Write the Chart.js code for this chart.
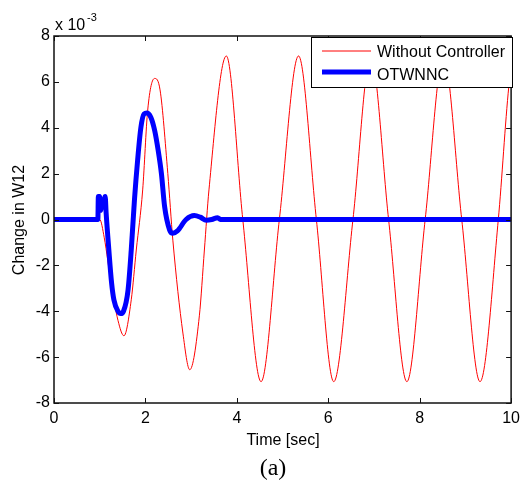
<!DOCTYPE html>
<html>
<head>
<meta charset="utf-8">
<script src="https://cdn.jsdelivr.net/npm/chart.js@4.4.1/dist/chart.umd.min.js"></script>
<style>
    html, body { margin: 0; padding: 0; background: #fff; }
    #wrap { width: 526px; height: 482px; }
</style>
</head>
<body>
<div id="wrap"><canvas id="w12Chart" width="526" height="482"></canvas></div>
<script>

// ======================================================
// Data (values in units of 10^-3)
// ======================================================

const seriesNames = ["Without Controller", "OTWNNC"];

const xTicks = [0, 2, 4, 6, 8, 10];
const yTicks = [-8, -6, -4, -2, 0, 2, 4, 6, 8];

// Without Controller (red)
const redTime = [0, 1.0, 1.1, 1.25, 1.4, 1.53, 1.69, 1.8, 1.94, 2.05, 2.2, 2.32, 2.49, 2.6, 2.82, 2.97, 3.18, 3.29, 3.39, 3.77,
    4.13, 4.53, 4.93, 5.35, 5.74, 6.12, 6.54, 6.93, 7.32, 7.72, 8.12, 8.52, 8.92, 9.32, 9.72, 9.95, 10];
const redValue = [0, 0, -0.8, -2.8, -4.4, -5.07, -3.5, -1.33, 1.29, 4.77, 6.15, 5.65, 2.0, -0.9, -4.95, -6.55, -4.2, -1.33, 1.29, 7.13,
    0, -7.07, 0, 7.13, 0, -7.07, 0, 7.12, 0, -7.07, 0, 7.12, 0, -7.07, 0, 5.8, 6.5];

// OTWNNC (blue)
const blueTime = [0, 0.96, 0.97, 1.0, 1.02, 1.05, 1.08, 1.12, 1.14, 1.2, 1.26, 1.31, 1.4, 1.46, 1.52, 1.62, 1.69, 1.76, 1.83, 1.9,
    1.97, 2.03, 2.12, 2.2, 2.28, 2.35, 2.42, 2.53, 2.6, 2.7, 2.89, 3.07, 3.2, 3.33, 3.45, 3.58, 3.64, 10];
const blueValue = [0, 0, 1.0, 1.0, 0.4, 0.8, 0.6, 1.0, 0.3, -1.33, -2.77, -3.5, -4.0, -4.1, -4.0, -3.07, -1.33, 0.85, 2.6, 4.0,
    4.6, 4.64, 4.45, 3.9, 3.0, 2.0, 0.56, -0.46, -0.6, -0.5, 0, 0.17, 0.1, -0.03, 0, 0.08, 0, 0];

const toPoints = (xs, ys) => xs.map((x, i) => ({ x: x, y: ys[i] }));

const SANS = "'Liberation Sans', Arial, Helvetica, sans-serif";
const SERIF = "'Liberation Serif', 'Times New Roman', serif";


// ======================================================
// Frame, inward ticks, labels and legend (MATLAB look)
// ======================================================

const matlabFrame = {
    id: "matlabFrame",
    afterDatasetsDraw(chart) {
        const { ctx, chartArea: a, scales } = chart;
        const tick = 5;

        ctx.save();
        ctx.strokeStyle = "#111";
        ctx.lineWidth = 1.5;
        ctx.strokeRect(a.left, a.top, a.right - a.left, a.bottom - a.top);

        ctx.lineWidth = 1;
        ctx.beginPath();
        xTicks.forEach(v => {
            const px = Math.round(scales.x.getPixelForValue(v)) + 0.5;
            ctx.moveTo(px, a.bottom); ctx.lineTo(px, a.bottom - tick);
            ctx.moveTo(px, a.top); ctx.lineTo(px, a.top + tick);
        });
        yTicks.forEach(v => {
            const py = Math.round(scales.y.getPixelForValue(v)) + 0.5;
            ctx.moveTo(a.left, py); ctx.lineTo(a.left + tick, py);
            ctx.moveTo(a.right, py); ctx.lineTo(a.right - tick, py);
        });
        ctx.stroke();

        // Exponent label
        ctx.fillStyle = "#000";
        ctx.textBaseline = "alphabetic";
        ctx.textAlign = "left";
        ctx.font = "16px " + SANS;
        ctx.fillText("x 10", 55, 30);
        ctx.font = "11px " + SANS;
        ctx.fillText("-3", 87, 21);

        // Axis titles
        ctx.font = "16px " + SANS;
        ctx.textAlign = "center";
        ctx.textBaseline = "middle";
        ctx.fillText("Time [sec]", 283, 441);

        ctx.save();
        ctx.translate(20, 220);
        ctx.rotate(-Math.PI / 2);
        ctx.fillText("Change in W12", 0, 0);
        ctx.restore();

        // Caption
        ctx.font = "24px " + SERIF;
        ctx.fillText("(a)", 273, 469);

        // Legend box
        const lx = 311, ly = 37, lw = 201, lh = 50;
        ctx.fillStyle = "#fff";
        ctx.fillRect(lx, ly, lw, lh);
        ctx.strokeStyle = "#000";
        ctx.lineWidth = 1;
        ctx.strokeRect(lx + 0.5, ly + 0.5, lw, lh);

        ctx.lineWidth = 1;
        ctx.strokeStyle = "#ff0000";
        ctx.beginPath();
        ctx.moveTo(322, 51); ctx.lineTo(371, 51);
        ctx.stroke();

        ctx.lineWidth = 5;
        ctx.strokeStyle = "#0000ff";
        ctx.beginPath();
        ctx.moveTo(322, 72); ctx.lineTo(371, 72);
        ctx.stroke();

        ctx.fillStyle = "#000";
        ctx.font = "16px " + SANS;
        ctx.textAlign = "left";
        ctx.textBaseline = "middle";
        ctx.fillText(seriesNames[0], 377, 53);
        ctx.fillText(seriesNames[1], 377, 76);

        ctx.restore();
    }
};


// ======================================================
// Create Chart
// ======================================================

const ctx = document.getElementById("w12Chart").getContext("2d");

const w12Chart = new Chart(ctx, {

    type: "line",

    data: {
        datasets: [
            {
                label: seriesNames[0],
                data: toPoints(redTime, redValue),
                borderColor: "#ff0000",
                borderWidth: 1,
                pointRadius: 0,
                cubicInterpolationMode: "monotone",
                order: 2
            },
            {
                label: seriesNames[1],
                data: toPoints(blueTime, blueValue),
                borderColor: "#0000ff",
                borderWidth: 5,
                pointRadius: 0,
                cubicInterpolationMode: "monotone",
                borderJoinStyle: "round",
                borderCapStyle: "round",
                order: 1
            }
        ]
    },

    options: {
        responsive: false,
        animation: false,
        layout: {
            padding: { top: 36, right: 14, bottom: 0, left: 0 }
        },
        plugins: {
            legend: { display: false },
            tooltip: { enabled: false }
        },
        scales: {
            x: {
                type: "linear",
                min: 0,
                max: 10,
                afterFit: s => { s.height = 79; },
                afterBuildTicks: s => { s.ticks = xTicks.map(v => ({ value: v })); },
                grid: { display: false, drawTicks: false },
                border: { display: false },
                ticks: {
                    color: "#000",
                    padding: 6,
                    maxRotation: 0,
                    font: { family: SANS, size: 16 }
                }
            },
            y: {
                min: -8,
                max: 8,
                afterFit: s => { s.width = 54; },
                afterBuildTicks: s => { s.ticks = yTicks.map(v => ({ value: v })); },
                grid: { display: false, drawTicks: false },
                border: { display: false },
                ticks: {
                    color: "#000",
                    padding: 4,
                    font: { family: SANS, size: 16 }
                }
            }
        }
    },

    plugins: [matlabFrame]

});

</script>
</body>
</html>
